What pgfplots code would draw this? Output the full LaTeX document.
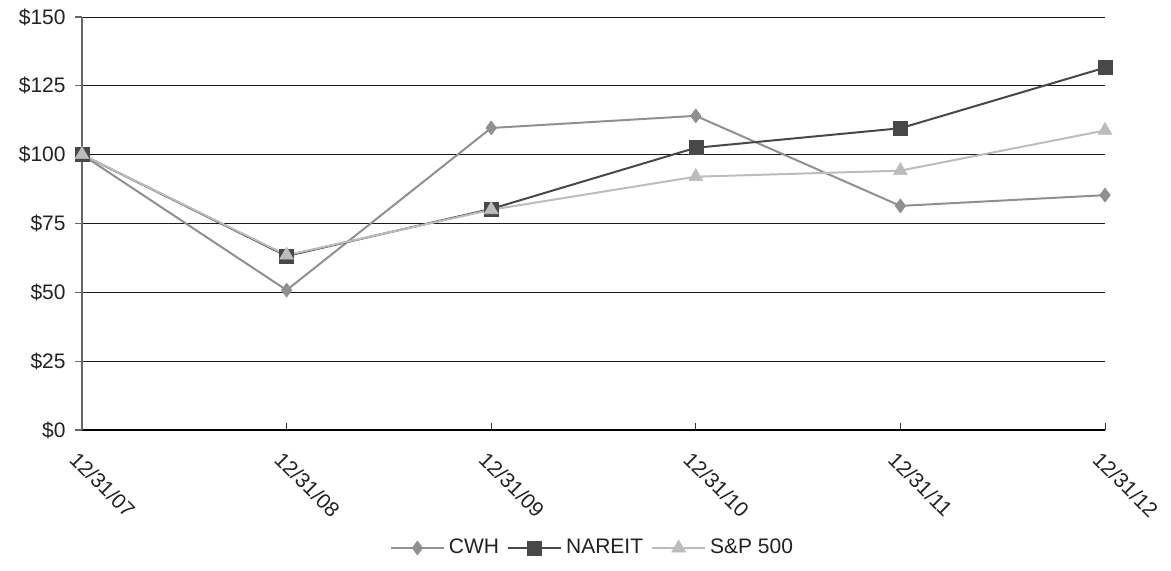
\documentclass[border=0pt]{standalone}
\usepackage{fontspec}
\setmainfont{Liberation Sans}
\usepackage{pgfplots}
\pgfplotsset{compat=1.18}

\definecolor{cwh}{HTML}{909092}
\definecolor{nareit}{HTML}{48484A}
\definecolor{spx}{HTML}{BCBCBE}
\definecolor{txt}{HTML}{222222}

\begin{document}
\fontsize{10.5}{12.6}\selectfont
\begin{tikzpicture}
  % 1 px of the reference = 0.5pt
  \useasboundingbox (-41pt,-70pt) rectangle (544.5pt,215pt);
  \begin{axis}[
    at={(0,0)}, anchor=south west,
    scale only axis,
    width=511.5pt, height=206.5pt,
    xmin=0, xmax=5,
    ymin=0, ymax=150,
    axis x line=bottom, axis y line=left,
    axis line style={-},
    x axis line style={black, line width=1pt},
    y axis line style={black!60, line width=0.8pt},
    xtick={0,1,2,3,4,5},
    xticklabels={12/31/07,12/31/08,12/31/09,12/31/10,12/31/11,12/31/12},
    ytick={0,25,50,75,100,125,150},
    yticklabels={\$0,\$25,\$50,\$75,\$100,\$125,\$150},
    ymajorgrids,
    grid style={black!90, line width=0.5pt},
    tick align=outside,
    major tick length=3.5pt,
    xtick style={black!80, line width=0.5pt, yshift=3.5pt},
    ytick style={black!60, line width=0.6pt},
    x tick label style={rotate=-45, anchor=north west, xshift=0pt, yshift=-2pt},
    y tick label style={xshift=-1pt},
    tick label style={text=txt, font=\fontsize{10.5}{12.6}\selectfont},
    /pgf/number format/assume math mode=true,
    clip=false,
    legend columns=3,
    legend style={draw=none, fill=none, at={(0.5,-0.2857)}, anchor=center,
      font=\fontsize{10.5}{12.6}\selectfont, text=txt,
      /tikz/every even column/.append style={column sep=2pt}},
    legend cell align=left,
    legend image code/.code={
      \draw[mark repeat=2, mark phase=2]
        plot coordinates {(0pt,0pt) (13.25pt,0pt) (26.5pt,0pt)};
    },
  ]
    \addplot[cwh, line width=1pt, mark=diamond*, mark size=3.5pt,
      mark options={fill=cwh, draw=cwh, line width=0.3pt}]
      coordinates {(0,100) (1,50.8) (2,109.7) (3,114.1) (4,81.4) (5,85.3)};
    \addlegendentry{CWH}
    \addplot[nareit, line width=1pt, mark=square*, mark size=3.5pt,
      mark options={fill=nareit, draw=nareit, line width=0.3pt}]
      coordinates {(0,100) (1,63.2) (2,80.3) (3,102.5) (4,109.6) (5,131.6)};
    \addlegendentry{NAREIT}
    \addplot[spx, line width=1pt, mark=triangle*, mark size=4pt,
      mark options={fill=spx, draw=spx, line width=0.3pt}]
      coordinates {(0,100) (1,63.5) (2,80.0) (3,92.0) (4,94.2) (5,108.8)};
    \addlegendentry{S\&P 500}
  \end{axis}
\end{tikzpicture}
\end{document}
